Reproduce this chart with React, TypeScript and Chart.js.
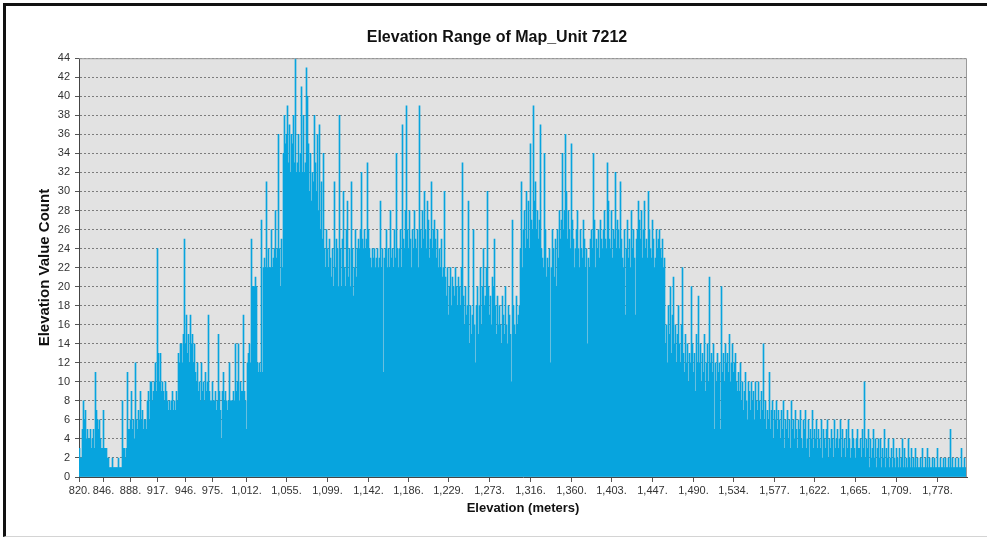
import React, { useEffect, useRef } from 'react';
import { Chart, registerables } from 'chart.js';

Chart.register(...registerables);

// Elevation value count per elevation bin (one bar per bin, left to right)
const elevationCounts: number[] = [
  3,2,2,5,8,6,7,4,5,4,4,5,3,4,5,3,11,7,6,5,
  6,4,3,3,7,3,3,3,2,2,1,1,1,2,1,1,1,1,1,2,
  1,1,1,8,3,3,2,3,11,5,5,6,9,5,6,4,12,6,5,7,
  6,9,6,7,5,6,6,5,8,9,6,10,10,8,9,10,12,9,24,13,
  10,13,9,10,9,8,10,9,8,7,8,7,8,9,7,8,7,9,8,13,
  12,14,14,12,15,25,14,17,13,15,12,17,14,15,12,14,11,10,12,9,
  10,8,12,9,10,8,11,9,10,17,9,8,8,10,8,8,9,7,8,15,
  9,7,4,9,11,8,9,8,7,8,12,8,8,8,9,8,14,9,10,14,
  8,10,9,9,17,9,8,5,12,13,14,12,25,20,20,20,21,20,12,11,
  12,11,27,11,22,23,22,31,22,24,22,22,26,22,23,24,28,23,24,36,
  24,20,25,22,34,38,35,36,39,33,37,32,36,35,38,33,44,32,33,36,
  32,34,41,32,38,32,33,43,40,35,30,34,29,32,31,38,33,30,36,28,
  37,26,31,25,34,24,22,26,24,22,25,23,21,24,20,31,22,25,24,20,
  38,24,20,25,30,22,20,26,29,21,24,20,31,24,19,22,26,21,24,25,
  24,26,32,25,24,26,24,25,33,26,24,23,22,24,23,24,22,23,24,22,
  23,29,22,24,11,23,24,26,22,24,22,28,23,24,22,26,23,34,24,22,
  24,26,22,37,25,24,28,39,26,24,28,25,22,26,24,28,25,24,26,22,
  39,26,24,28,25,30,26,24,29,27,23,25,31,24,26,27,25,23,26,22,
  24,22,25,21,22,30,21,19,22,17,20,22,18,21,20,19,22,20,18,21,
  20,18,22,33,19,16,20,17,18,29,14,18,15,17,26,16,12,18,20,15,
  18,22,16,20,24,18,19,22,30,20,17,19,16,21,20,25,18,15,19,16,
  18,16,14,19,17,15,20,16,14,18,17,15,10,27,18,16,15,19,16,17,
  18,24,31,22,26,28,24,30,25,29,24,35,27,26,39,29,31,26,28,25,
  27,37,24,23,22,34,26,21,23,22,24,12,22,26,24,21,25,20,26,23,
  28,25,27,34,26,28,36,30,25,28,26,24,35,27,25,22,24,26,28,24,
  22,26,24,23,27,25,22,24,14,23,22,25,26,24,34,27,22,25,24,26,
  23,27,25,24,26,28,25,24,33,29,25,24,28,23,26,25,32,24,27,26,
  24,31,25,23,22,26,17,24,27,23,25,22,28,24,26,23,17,25,26,29,
  27,25,28,23,26,29,24,25,23,30,26,24,23,27,25,22,23,26,24,25,
  26,24,23,25,22,23,14,16,12,18,15,20,13,17,21,14,16,12,15,18,
  14,12,16,22,13,11,15,12,14,10,13,12,20,14,11,13,9,15,12,19,
  12,14,10,13,11,15,9,12,14,10,21,12,13,11,14,5,12,10,13,11,
  12,5,20,11,13,10,14,12,13,11,15,10,12,14,11,12,13,10,9,11,
  9,12,8,10,7,9,11,8,6,10,9,7,10,8,9,6,10,8,7,10,
  8,6,9,7,14,6,8,5,7,6,11,5,7,8,4,7,6,8,5,7,
  6,4,7,5,8,3,6,5,7,4,6,3,8,5,6,4,7,5,3,6,
  5,7,4,3,6,5,7,3,4,6,2,5,4,7,3,5,4,6,3,5,
  4,3,6,2,5,4,3,5,6,2,4,3,5,4,2,6,3,4,5,3,
  4,6,2,5,3,4,2,5,3,6,4,2,3,5,4,3,2,4,5,3,
  3,4,2,5,3,10,2,4,3,5,1,4,2,3,5,2,4,1,3,4,
  2,4,1,3,2,5,1,3,2,4,1,2,3,1,4,2,1,3,2,1,
  3,1,2,4,1,3,1,2,1,4,2,1,3,1,2,1,3,1,2,1,
  1,2,1,3,1,1,2,1,3,1,2,1,1,2,1,2,1,1,3,1,
  1,2,1,1,2,1,2,1,1,2,1,5,1,2,1,1,2,1,1,2,
  1,1,3,1,1,2,1,1,
];

// Elevation tick labels and the bin index each one sits on
const xTickLabels: string[] = [
  '820.', '846.', '888.', '917.', '946.', '975.', '1,012.', '1,055.', '1,099.', '1,142.',
  '1,186.', '1,229.', '1,273.', '1,316.', '1,360.', '1,403.', '1,447.', '1,490.', '1,534.',
  '1,577.', '1,622.', '1,665.', '1,709.', '1,778.',
];
const xTickBins: number[] = [
  0, 24, 51, 78, 106, 133, 167, 207, 248, 289, 329, 369, 410, 451, 492, 532, 573, 614, 654,
  695, 735, 776, 817, 858,
];

const yMin = 0;
const yMax = 44;
const yStep = 2;

const FONT = "'Liberation Sans', Arial, Helvetica, sans-serif";

export default function App() {
  const ref = useRef<HTMLCanvasElement>(null);

  useEffect(() => {
    if (!ref.current) return;
    const plotFrame = {
      id: 'plotFrame',
      beforeDraw(chart: any) {
        const { ctx, chartArea: a } = chart;
        ctx.save();
        ctx.fillStyle = '#e2e2e2';
        ctx.fillRect(a.left, a.top, a.right - a.left, a.bottom - a.top);
        ctx.restore();
      },
      afterDatasetsDraw(chart: any) {
        const { ctx, chartArea: a } = chart;
        ctx.save();
        ctx.strokeStyle = '#9a9a9a';
        ctx.lineWidth = 1;
        ctx.beginPath();
        ctx.moveTo(a.left, a.top + 0.5);
        ctx.lineTo(a.right - 0.5, a.top + 0.5);
        ctx.lineTo(a.right - 0.5, a.bottom);
        ctx.stroke();
        ctx.restore();
      },
    };

    const chart = new Chart(ref.current, {
      type: 'bar',
      data: {
        datasets: [
          {
            data: elevationCounts.map((v, i) => ({ x: i, y: v })) as any,
            backgroundColor: '#08a4de',
            borderWidth: 0,
            barPercentage: 1,
            categoryPercentage: 1,
          },
        ],
      },
      options: {
        responsive: false,
        animation: false,
        layout: { padding: { left: 27, right: 23, top: 0, bottom: 0 } },
        plugins: {
          legend: { display: false },
          tooltip: { enabled: false },
          title: {
            display: true,
            text: 'Elevation Range of Map_Unit 7212',
            color: '#111',
            font: { family: FONT, size: 16, weight: 'bold' },
            padding: { top: 28, bottom: 11 },
          },
        },
        scales: {
          x: {
            type: 'linear',
            min: -0.5,
            max: elevationCounts.length - 0.5,
            offset: false,
            grid: {
              display: true,
              drawOnChartArea: false,
              drawTicks: true,
              tickLength: 5,
              color: '#555',
              offset: false,
            },
            border: { display: true, color: '#444', width: 1 },
            ticks: {
              autoSkip: false,
              maxRotation: 0,
              minRotation: 0,
              padding: 2,
              color: '#333',
              font: { family: FONT, size: 11 },
              callback: (_v: any, i: number) => xTickLabels[i] ?? '',
            },
            afterBuildTicks: (s: any) => {
              s.ticks = xTickBins.map((b) => ({ value: b }));
            },
            afterFit: (s: any) => {
              s.height = 60;
            },
            title: {
              display: true,
              text: 'Elevation (meters)',
              color: '#111',
              font: { family: FONT, size: 13, weight: 'bold' },
              padding: { top: 0, bottom: 21 },
            },
          } as any,
          y: {
            min: yMin,
            max: yMax,
            ticks: {
              stepSize: yStep,
              padding: 5,
              color: '#333',
              font: { family: FONT, size: 11 },
            },
            grid: {
              color: '#7c7c7c',
              lineWidth: 1,
              tickLength: 4,
              tickColor: '#555',
              tickBorderDash: [1, 0],
            },
            border: { display: true, color: '#444', width: 1, dash: [2, 2] },
            afterFit: (s: any) => {
              s.width = 52;
            },
            title: {
              display: true,
              text: 'Elevation Value Count',
              color: '#111',
              font: { family: FONT, size: 15, weight: 'bold' },
              padding: { top: 9, bottom: 0 },
            },
          } as any,
        },
      },
      plugins: [plotFrame],
    });
    return () => chart.destroy();
  }, []);

  return (
    <div
      style={{
        position: 'absolute',
        left: 0,
        top: 0,
        width: 990,
        height: 537,
        background: '#fff',
        overflow: 'hidden',
      }}
    >
      <canvas ref={ref} width={990} height={537} style={{ display: 'block' }} />
      <div
        style={{
          position: 'absolute',
          left: 3,
          top: 3,
          width: 984,
          height: 534,
          boxSizing: 'border-box',
          borderTop: '3px solid #111',
          borderLeft: '3px solid #111',
          borderBottom: '1px solid #d4d4d4',
          pointerEvents: 'none',
        }}
      />
    </div>
  );
}
